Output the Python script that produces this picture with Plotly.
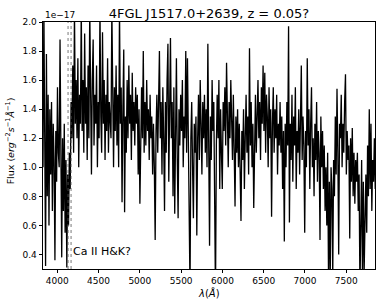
import numpy as np
import plotly.graph_objects as go

# Observed-frame wavelength sampling (Angstrom)
wave_start = 3827.4
wave_step = 10.29

# Flux (units of 1e-17)
flux = [
    1.0, 2.1, 1.2, 0.32, 1.78, 0.8, 1.5, 0.6, 1.4, 0.95,
    1.45, 0.7, 1.3, 1.05, 0.36, 1.25, 0.9, 1.55, 1.1, 1.0,
    1.88, 0.8, 0.38, 1.2, 0.7, 1.3, 0.55, 1.05, 0.31, 0.95,
    0.6, 1.1, 0.85, 1.45, 1.2, 1.7, 1.1, 2.1, 1.3, 1.6,
    1.2, 1.75, 1.0, 1.5, 1.3, 2.1, 1.25, 1.6, 1.1, 1.92,
    1.3, 1.55, 1.05, 1.7, 1.2, 2.1, 1.35, 0.95, 1.6, 1.88,
    1.15, 1.5, 1.3, 1.7, 1.0, 1.45, 1.2, 2.1, 1.35, 1.1,
    1.93, 1.3, 1.6, 1.05, 1.5, 1.25, 1.75, 1.1, 1.45, 1.3,
    1.2, 2.1, 1.4, 1.0, 1.55, 1.25, 1.7, 1.15, 1.5, 1.0,
    2.1, 1.3, 1.55, 0.76, 1.4, 1.81, 0.69, 1.35, 1.1, 1.6,
    1.2, 1.7, 1.3, 1.5, 1.05, 1.65, 1.25, 1.45, 1.15, 1.55,
    1.3, 1.5, 0.95, 1.4, 0.75, 1.35, 1.55, 1.2, 1.8, 1.1,
    1.45, 1.15, 1.6, 1.25, 1.4, 1.05, 1.5, 1.2, 1.35, 0.95,
    1.3, 1.0, 0.5, 1.25, 1.5, 1.1, 1.4, 1.8, 1.2, 1.45,
    0.95, 1.55, 1.2, 0.7, 1.45, 1.1, 1.6, 1.85, 0.9, 1.4,
    1.89, 1.2, 1.45, 0.8, 1.55, 0.68, 1.35, 1.75, 1.05, 0.65,
    1.4, 1.15, 1.5, 1.25, 1.6, 1.0, 1.35, 1.2, 1.8, 1.1,
    1.75, 1.3, 0.9, 0.15, 1.2, 1.45, 1.0, 0.65, 1.3, 1.1,
    1.35, 0.53, 1.2, 1.5, 1.05, 1.6, 1.3, 0.95, 1.45, 1.2,
    1.5, 1.1, 1.4, 1.0, 1.85, 1.2, 0.46, 1.35, 1.05, 1.6,
    1.25, 1.45, 0.9, 0.1, 1.15, 1.5, 1.2, 1.6, 0.85, 1.4,
    1.1, 0.85, 1.45, 1.25, 1.55, 1.15, 1.72, 1.3, 1.0, 1.45,
    1.2, 1.6, 1.3, 1.05, 1.5, 1.2, 0.73, 1.35, 1.1, 1.4,
    1.0, 1.3, 0.9, 0.63, 1.25, 1.05, 1.4, 0.85, 1.2, 1.5,
    1.1, 1.35, 0.95, 1.82, 1.15, 1.45, 1.0, 1.3, 0.72, 1.25,
    1.5, 1.1, 1.4, 1.6, 1.2, 1.45, 1.05, 1.55, 1.3, 1.7,
    1.25, 1.65, 1.1, 1.5, 1.35, 1.0, 1.55, 1.2, 1.4, 0.66,
    1.3, 1.55, 1.1, 1.4, 1.2, 1.5, 0.95, 1.3, 1.15, 1.45,
    1.1, 1.35, 0.85, 1.25, 0.49, 1.3, 1.0, 1.45, 1.15, 1.97,
    0.62, 1.3, 1.05, 1.5, 0.9, 1.35, 1.15, 1.55, 0.85, 1.25,
    1.1, 1.4, 0.95, 1.3, 1.7, 1.05, 1.35, 1.15, 0.55, 1.25,
    1.0, 1.75, 1.15, 1.4, 0.85, 1.3, 1.55, 1.0, 1.2, 0.8,
    1.3, 1.05, 1.45, 0.9, 1.25, 1.1, 0.5, 1.35, 1.0, 1.25,
    0.85, 1.15, 0.7, 1.0, 0.6, 1.1, 0.25, 0.9, 0.2, 1.0,
    0.85, 0.25, 1.05, 0.8, 1.35, 0.95, 1.54, 1.1, 0.4, 1.3,
    1.2, 1.5, 1.0, 1.3, 1.1, 1.45, 1.64, 0.95, 1.25, 1.05,
    1.15, 0.51, 1.2, 0.9, 1.27, 0.8, 1.1, 0.75, 1.05, 0.9,
    1.1, 0.7, 0.95, 0.15, 0.8, 1.05, 0.2, 0.9, 0.3, 0.6,
    0.95, 0.55, 1.15, 0.8, 1.4, 0.85, 1.3, 0.7, 1.05, 0.9, 1.2, 0.85,
]

wave = wave_start + wave_step * np.arange(len(flux))

# Ca II H&K at z = 0.05
redshift = 0.05
ca_rest = [3933.7, 3968.5]
ca_obs = [w * (1 + redshift) for w in ca_rest]

title_text = "4FGL J1517.0+2639, z = 0.05?"
x_ticks = [4000, 4500, 5000, 5500, 6000, 6500, 7000, 7500]
y_ticks = [0.4, 0.6, 0.8, 1.0, 1.2, 1.4, 1.6, 1.8, 2.0]

FONT = "DejaVu Sans"

fig = go.Figure()
fig.add_trace(go.Scatter(
    x=wave, y=flux, mode="lines",
    line=dict(color="black", width=1.3),
    showlegend=False, hoverinfo="skip",
))

for w in ca_obs:
    fig.add_shape(type="line", xref="x", yref="paper", x0=w, x1=w, y0=0, y1=1,
                  line=dict(color="#555555", width=0.8, dash="dot"))

fig.add_annotation(x=ca_obs[1], y=0.42, xref="x", yref="y", text="Ca II H&K?",
                   showarrow=False, xanchor="left", yanchor="middle", xshift=0,
                   font=dict(family=FONT, size=11, color="black"))

# offset text
fig.add_annotation(x=0, y=1.0, xref="paper", yref="paper", text="1e\u221217",
                   showarrow=False, xanchor="left", yanchor="bottom", yshift=0,
                   font=dict(family=FONT, size=9, color="black"))

# axis labels
fig.add_annotation(x=0.5, y=-0.097, xref="paper", yref="paper",
                   text="<i>\u03bb</i>(<i>\u00c5</i>)", showarrow=False,
                   xanchor="center", yanchor="middle",
                   font=dict(family=FONT, size=10, color="black"))
fig.add_annotation(x=-0.1, y=0.52, xref="paper", yref="paper",
                   text="Flux (<i>erg</i><sup>\u22122</sup><i>s</i><sup>\u22121</sup><i>\u00c5</i><sup>\u22121</sup>)",
                   showarrow=False, textangle=-90, xanchor="center", yanchor="middle",
                   font=dict(family=FONT, size=9.5, color="black"))

fig.update_layout(
    width=382, height=306,
    margin=dict(l=43, r=7, t=22, b=37, autoexpand=False),
    paper_bgcolor="white", plot_bgcolor="white",
    font=dict(family=FONT, size=9, color="black"),
    title=dict(text=title_text, x=0.547, xanchor="center", xref="container",
               y=0.957, yanchor="middle", yref="container", automargin=False,
               font=dict(family=FONT, size=13, color="black")),
)
fig.update_xaxes(
    range=[3827, 7848], tickmode="array", tickvals=x_ticks,
    ticktext=[str(t) for t in x_ticks], automargin=False,
    showgrid=False, zeroline=False, showline=True, mirror=True,
    linecolor="black", linewidth=0.8, ticks="outside", ticklen=3.5,
    tickwidth=0.8, tickcolor="black", tickfont=dict(size=9),
)
fig.update_yaxes(
    range=[0.3, 2.0], tickmode="array", tickvals=y_ticks,
    ticktext=[f"{t:.1f}" for t in y_ticks], automargin=False,
    showgrid=False, zeroline=False, showline=True, mirror=True,
    linecolor="black", linewidth=0.8, ticks="outside", ticklen=3.5,
    tickwidth=0.8, tickcolor="black", tickfont=dict(size=9),
)

fig.write_html("out.html", config={"displayModeBar": False},
               post_script="document.body.style.margin='0';document.body.style.overflow='hidden';")
